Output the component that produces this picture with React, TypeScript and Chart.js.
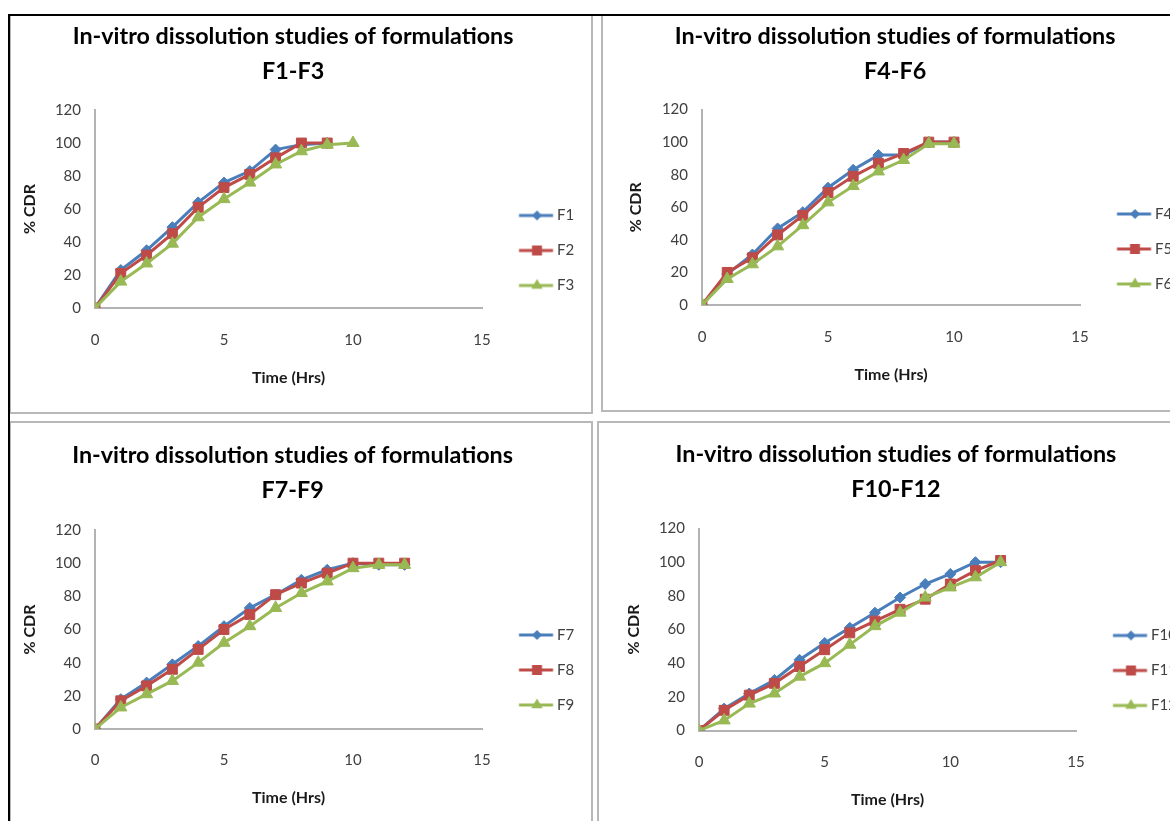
import React, { useEffect, useMemo, useRef } from 'react';
import { Chart, registerables } from 'chart.js';

Chart.register(...registerables);

// ---------------- data ----------------
const hours = [0, 1, 2, 3, 4, 5, 6, 7, 8, 9, 10, 11, 12];
const xTickValues = [0, 5, 10, 15];
const yTickValues = [0, 20, 40, 60, 80, 100, 120];

const titleLine1 = 'In-vitro dissolution studies of formulations';
const groupLabels = ['F1-F3', 'F4-F6', 'F7-F9', 'F10-F12'];
const seriesNames = [
  ['F1', 'F2', 'F3'],
  ['F4', 'F5', 'F6'],
  ['F7', 'F8', 'F9'],
  ['F10', 'F11', 'F12'],
];

const F1 = [0, 23, 35, 49, 64, 76, 83, 96, 99, 100];
const F2 = [0, 21, 32, 45, 61, 73, 81, 91, 100, 100];
const F3 = [0, 16, 27, 39, 55, 66, 76, 87, 95, 99, 100];

const F4 = [0, 19, 31, 47, 57, 72, 83, 92, 92, 100, 100];
const F5 = [0, 20, 29, 43, 55, 69, 79, 87, 93, 100, 100];
const F6 = [0, 16, 25, 36, 49, 63, 73, 82, 89, 99, 99];

const F7 = [0, 18, 28, 39, 50, 62, 73, 81, 90, 96, 100, 99, 99];
const F8 = [0, 17, 26, 36, 48, 60, 69, 81, 88, 94, 100, 100, 100];
const F9 = [0, 13, 21, 29, 40, 52, 62, 73, 82, 89, 97, 99, 99];

const F10 = [0, 13, 22, 30, 42, 52, 61, 70, 79, 87, 93, 100, 100];
const F11 = [0, 12, 21, 28, 38, 48, 58, 65, 72, 78, 87, 95, 101];
const F12 = [0, 6, 16, 22, 32, 40, 51, 62, 70, 79, 85, 91, 100];

const groupValues = [
  [F1, F2, F3],
  [F4, F5, F6],
  [F7, F8, F9],
  [F10, F11, F12],
];

// ---------------- style / layout ----------------
const FONT = 'Lato, "Open Sans", "DejaVu Sans", sans-serif';
const COLORS = ['#4a7ebb', '#be4b48', '#98b954'];
const MARKERS = ['rectRot', 'rect', 'triangle'];
const RADII = [5.5, 7, 7];
const LINE_W = 3;
const AXIS_COLOR = '#b3b3b3';
const TICK_COLOR = '#404040';
const TITLE_LH = 35;
const TICK_FS = 15;
const AXT_FS = 16;
const LEG_FS = 15;
const LEG_PAD = 20;
const LEG_BOX = 47.5;
const ICON_W = 56;
const ICON_H = 16;
const SIDE_PAD = 20;

// absolute page positions of each panel's features
const layouts = [
  { titleCx: 293, titleY1: 36, chartLeft: 95, chartRight: 482, chartTop: 110, chartBottom: 308, legendMid: 250.5, xTickY: 340, xTitleY: 378, yTitleX: 30 },
  { titleCx: 895, titleY1: 36, chartLeft: 702, chartRight: 1080, chartTop: 109.5, chartBottom: 305, legendMid: 249, xTickY: 337, xTitleY: 375, yTitleX: 636 },
  { titleCx: 292.5, titleY1: 455, chartLeft: 95, chartRight: 482, chartTop: 530, chartBottom: 729, legendMid: 670, xTickY: 760, xTitleY: 798, yTitleX: 30 },
  { titleCx: 896, titleY1: 453.5, chartLeft: 699, chartRight: 1076, chartTop: 528, chartBottom: 730, legendMid: 670, xTickY: 762, xTitleY: 799.5, yTitleX: 634 },
];

function measure(font: string, text: string): number {
  const c = document.createElement('canvas');
  const ctx = c.getContext('2d');
  if (!ctx) return text.length * 8;
  ctx.font = font;
  return ctx.measureText(text).width;
}

function fitTitleSize(): number {
  const w = measure(`bold 20px ${FONT}`, titleLine1);
  return (20 * 441) / w;
}

function makeIcon(color: string, marker: string): HTMLCanvasElement {
  const c = document.createElement('canvas');
  c.width = ICON_W;
  c.height = ICON_H;
  const ctx = c.getContext('2d')!;
  const center = LEG_PAD + LEG_BOX / 2;
  const left = center - ICON_W / 2;
  const x0 = 37 - left;
  const x1 = 71 - left;
  const mx = 55 - left;
  const my = ICON_H / 2;
  ctx.strokeStyle = color;
  ctx.lineWidth = LINE_W;
  ctx.beginPath();
  ctx.moveTo(x0, my);
  ctx.lineTo(x1, my);
  ctx.stroke();
  ctx.fillStyle = color;
  ctx.beginPath();
  if (marker === 'rectRot') {
    const r = 5;
    ctx.moveTo(mx - r, my);
    ctx.lineTo(mx, my - r);
    ctx.lineTo(mx + r, my);
    ctx.lineTo(mx, my + r);
  } else if (marker === 'rect') {
    const h = 5;
    ctx.rect(mx - h, my - h, 2 * h, 2 * h);
  } else {
    const r = 6.5;
    ctx.moveTo(mx, my - r);
    ctx.lineTo(mx + r * 0.866, my + r / 2);
    ctx.lineTo(mx - r * 0.866, my + r / 2);
  }
  ctx.closePath();
  ctx.fill();
  return c;
}

type Lay = (typeof layouts)[number];

function ChartPanel({ idx, lay, titleSize }: { idx: number; lay: Lay; titleSize: number }) {
  const ref = useRef<HTMLCanvasElement>(null);
  const names = seriesNames[idx];
  const geo = useMemo(() => {
    const legFont = `normal ${LEG_FS}px ${FONT}`;
    const maxText = Math.max(...names.map((n) => measure(legFont, n)));
    const legendW = LEG_PAD + LEG_BOX + LEG_FS / 2 + maxText + 10;
    const t = lay.titleY1 - 20;
    const H = Math.round(2 * (lay.legendMid - t));
    const canvasLeft = Math.round(2 * lay.titleCx - lay.chartRight - legendW - SIDE_PAD);
    const W = Math.ceil(lay.chartRight - canvasLeft + legendW + SIDE_PAD);
    const padR = W - (lay.chartRight - canvasLeft) - legendW;
    return { legendW, t, H, canvasLeft, W, padR };
  }, [idx, lay]);
  const { legendW, t, H, canvasLeft, W, padR } = geo;

  useEffect(() => {
    const canvas = ref.current;
    if (!canvas) return;
    const icons = COLORS.map((c, i) => makeIcon(c, MARKERS[i]));
    const titlePadTop = lay.titleY1 - t - TITLE_LH / 2;
    const titlePadBottom = lay.chartTop - t - titlePadTop - 2 * TITLE_LH;
    const xAxisH = t + H - lay.chartBottom;
    const yAxisW = lay.chartLeft - canvasLeft - SIDE_PAD;
    const axtLH = AXT_FS * 1.2;
    const tickLH = TICK_FS * 1.2;
    const xTitlePadB = t + H - lay.xTitleY - axtLH / 2;
    const yTitlePadT = lay.yTitleX - canvasLeft - SIDE_PAD - axtLH / 2;
    const xTickPad = lay.xTickY - lay.chartBottom - tickLH / 2;

    const vals = groupValues[idx];

    const chart = new Chart(canvas, {
      type: 'line',
      data: {
        datasets: vals.map((series, i) => ({
          label: names[i],
          data: series.map((v, j) => ({ x: hours[j], y: v })),
          borderColor: COLORS[i],
          backgroundColor: COLORS[i],
          borderWidth: LINE_W,
          pointStyle: MARKERS[i] as any,
          pointRadius: RADII[i],
          pointBorderWidth: 1,
          pointBackgroundColor: COLORS[i],
          pointBorderColor: COLORS[i],
          tension: 0,
          fill: false,
          order: 3 - i,
        })),
      },
      options: {
        responsive: false,
        animation: false,
        devicePixelRatio: 1,
        events: [],
        layout: { padding: { left: SIDE_PAD, right: padR, top: 0, bottom: 0 } },
        scales: {
          x: {
            type: 'linear',
            min: xTickValues[0],
            max: xTickValues[xTickValues.length - 1],
            ticks: {
              stepSize: xTickValues[1] - xTickValues[0],
              font: { family: FONT, size: TICK_FS },
              color: TICK_COLOR,
              padding: xTickPad,
            },
            grid: { display: false, drawTicks: false },
            border: { display: true, color: AXIS_COLOR, width: 2 },
            title: {
              display: true,
              text: 'Time (Hrs)',
              font: { family: FONT, size: AXT_FS, weight: 'bold' },
              color: '#1a1a1a',
              padding: { top: 0, bottom: xTitlePadB },
            },
            afterFit: (s: any) => {
              s.height = xAxisH;
            },
          },
          y: {
            type: 'linear',
            min: yTickValues[0],
            max: yTickValues[yTickValues.length - 1],
            ticks: {
              stepSize: yTickValues[1] - yTickValues[0],
              font: { family: FONT, size: TICK_FS },
              color: TICK_COLOR,
              padding: 14,
            },
            grid: { display: false, drawTicks: false },
            border: { display: true, color: AXIS_COLOR, width: 2 },
            title: {
              display: true,
              text: '% CDR',
              font: { family: FONT, size: AXT_FS, weight: 'bold' },
              color: '#1a1a1a',
              padding: { top: yTitlePadT, bottom: 0 },
            },
            afterFit: (s: any) => {
              s.width = yAxisW;
            },
          },
        },
        plugins: {
          title: {
            display: true,
            text: [titleLine1, groupLabels[idx]],
            font: { family: FONT, size: titleSize, weight: 'bold', lineHeight: TITLE_LH / titleSize },
            color: '#000000',
            padding: { top: titlePadTop, bottom: titlePadBottom },
          },
          legend: {
            display: true,
            position: 'right',
            align: 'center',
            maxWidth: legendW + 40,
            labels: {
              usePointStyle: true,
              pointStyleWidth: LEG_BOX,
              padding: LEG_PAD,
              font: { family: FONT, size: LEG_FS },
              color: TICK_COLOR,
              generateLabels: (ch: any) =>
                ch.data.datasets.map((ds: any, i: number) => ({
                  text: ds.label,
                  pointStyle: icons[i],
                  fillStyle: COLORS[i],
                  strokeStyle: COLORS[i],
                  lineWidth: 0,
                  hidden: false,
                  datasetIndex: i,
                  fontColor: TICK_COLOR,
                })),
            },
          },
          tooltip: { enabled: false },
        },
      } as any,
    });
    return () => chart.destroy();
  }, [idx, lay, titleSize, geo]);

  return (
    <canvas
      ref={ref}
      width={W}
      height={H}
      style={{ position: 'absolute', left: canvasLeft, top: t, width: W, height: H }}
    />
  );
}

const frameBoxes = [
  { left: 9, top: 14, width: 584, height: 400 },
  { left: 601, top: 14, width: 620, height: 398 },
  { left: 9, top: 421, width: 584, height: 460 },
  { left: 597, top: 421, width: 620, height: 460 },
];

export default function App() {
  const titleSize = useMemo(() => fitTitleSize(), []);
  return (
    <div
      style={{
        position: 'fixed',
        left: 0,
        top: 0,
        width: 1170,
        height: 821,
        overflow: 'hidden',
        background: '#ffffff',
      }}
    >
      {frameBoxes.map((b, i) => (
        <div
          key={'f' + i}
          style={{
            position: 'absolute',
            left: b.left,
            top: b.top,
            width: b.width,
            height: b.height,
            border: '2px solid #b8b8b8',
            boxSizing: 'border-box',
          }}
        />
      ))}
      {layouts.map((lay, i) => (
        <ChartPanel key={'c' + i} idx={i} lay={lay} titleSize={titleSize} />
      ))}
      <div style={{ position: 'absolute', left: 8, top: 14, width: 1162, height: 2, background: '#000' }} />
      <div style={{ position: 'absolute', left: 8, top: 14, width: 2, height: 807, background: '#000' }} />
    </div>
  );
}
